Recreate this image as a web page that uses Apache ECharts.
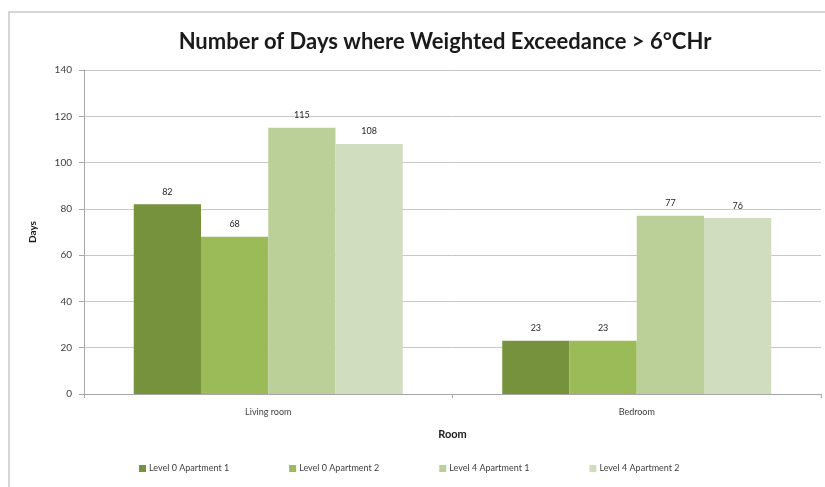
<!DOCTYPE html>
<html>
<head>
<meta charset="utf-8">
<script src="https://cdn.jsdelivr.net/npm/echarts@6/dist/echarts.min.js"></script>
<style>
  html, body { margin: 0; padding: 0; background: #fff; }
  #chart { width: 825px; height: 487px; }
</style>
</head>
<body>
<div id="chart"></div>
<script>
const rooms = ["Living room", "Bedroom"]
const seriesNames = ["Level 0 Apartment 1", "Level 0 Apartment 2", "Level 4 Apartment 1", "Level 4 Apartment 2"]
const level0Apt1 = [82, 23]
const level0Apt2 = [68, 23]
const level4Apt1 = [115, 77]
const level4Apt2 = [108, 76]
const barColors = ["#76923c", "#9bbb59", "#bbcf98", "#d1ddbf"]

const font = "Lato, 'Open Sans', sans-serif"
const values = [level0Apt1, level0Apt2, level4Apt1, level4Apt2]

const chart = echarts.init(document.getElementById("chart"))
chart.setOption({
  animation: false,
  textStyle: { fontFamily: font },
  graphic: [
    {
      type: "rect",
      shape: { x: 9, y: 12, width: 900, height: 600 },
      style: { fill: "none", stroke: "#c8c8c8", lineWidth: 1.5 }
    }
  ],
  title: {
    text: "Number of Days where Weighted Exceedance > 6°CHr",
    left: 440,
    textAlign: "center",
    top: 26,
    textStyle: { fontFamily: font, fontSize: 22, fontWeight: "bold", color: "#1a1a1a" }
  },
  legend: {
    bottom: 9,
    left: 134,
    itemWidth: 7,
    itemHeight: 7,
    itemGap: 60,
    icon: "rect",
    textStyle: { fontFamily: font, fontSize: 9, color: "#404040", padding: [0, 0, 0, -2] },
    data: seriesNames
  },
  grid: { left: 84, right: 4, top: 70, bottom: 93 },
  xAxis: {
    type: "category",
    data: rooms,
    name: "Room",
    nameLocation: "middle",
    nameGap: 35,
    nameTextStyle: { fontFamily: font, fontSize: 11, fontWeight: "bold", color: "#1a1a1a" },
    axisLine: { lineStyle: { color: "#a6a6a6" } },
    axisTick: { show: true, length: 4, lineStyle: { color: "#a6a6a6" } },
    axisLabel: { fontFamily: font, fontSize: 9, color: "#404040", margin: 14 }
  },
  yAxis: {
    type: "value",
    min: 0,
    max: 140,
    interval: 20,
    name: "Days",
    nameLocation: "middle",
    nameGap: 46,
    nameTextStyle: { fontFamily: font, fontSize: 10, fontWeight: "bold", color: "#1a1a1a" },
    axisLine: { show: true, lineStyle: { color: "#a6a6a6" } },
    axisTick: { show: true, length: 5, lineStyle: { color: "#a6a6a6" } },
    axisLabel: { fontFamily: font, fontSize: 10, color: "#404040", margin: 12 },
    splitLine: { lineStyle: { color: "#c8c8c8", width: 1 } }
  },
  series: seriesNames.map((name, i) => ({
    name: name,
    type: "bar",
    data: values[i],
    barGap: "0%",
    barCategoryGap: "27%",
    itemStyle: { color: barColors[i] },
    label: {
      show: true,
      position: "top",
      distance: 8,
      fontFamily: font,
      fontSize: 9,
      color: "#262626"
    }
  }))
})
</script>
</body>
</html>
